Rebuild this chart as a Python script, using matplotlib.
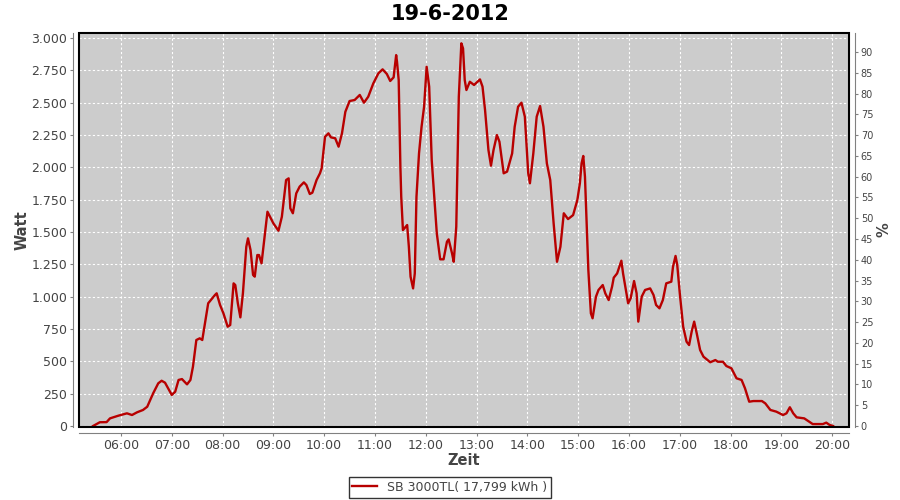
import matplotlib
matplotlib.use("Agg")
import matplotlib.pyplot as plt
import matplotlib.dates as mdates
import matplotlib.ticker as mticker
from matplotlib.patches import Rectangle
import pandas as pd

zeiten = ["05:27", "05:35", "05:43", "05:47", "05:57", "06:07", "06:13", "06:19", "06:26", "06:31",
          "06:38", "06:44", "06:48", "06:52", "07:00", "07:04", "07:08", "07:12", "07:18", "07:22",
          "07:25", "07:29", "07:33", "07:36", "07:43", "07:51", "07:53", "07:57", "08:01", "08:06",
          "08:09", "08:13", "08:15", "08:18", "08:21", "08:24", "08:28", "08:30", "08:33", "08:36",
          "08:38", "08:41", "08:43", "08:46", "08:50", "08:53", "09:00", "09:06", "09:10", "09:15",
          "09:18", "09:20", "09:23", "09:27", "09:31", "09:36", "09:39", "09:43", "09:46", "09:51",
          "09:55", "09:57", "10:01", "10:05", "10:08", "10:13", "10:17", "10:21", "10:25", "10:30",
          "10:36", "10:42", "10:47", "10:52", "10:58", "11:04", "11:09", "11:14", "11:18", "11:22",
          "11:25", "11:26", "11:28", "11:30", "11:31", "11:33", "11:38", "11:40", "11:42", "11:45",
          "11:47", "11:49", "11:52", "11:55", "11:58", "12:01", "12:04", "12:07", "12:10", "12:13",
          "12:17", "12:21", "12:25", "12:27", "12:31", "12:33", "12:36", "12:39", "12:42", "12:44",
          "12:46", "12:48", "12:52", "12:57", "13:04", "13:07", "13:10", "13:14", "13:17", "13:20",
          "13:24", "13:27", "13:32", "13:36", "13:42", "13:45", "13:49", "13:53", "13:57", "14:01",
          "14:03", "14:07", "14:11", "14:15", "14:19", "14:23", "14:27", "14:31", "14:35", "14:39",
          "14:43", "14:48", "14:54", "14:59", "15:02", "15:04", "15:06", "15:08", "15:10", "15:12",
          "15:15", "15:17", "15:21", "15:24", "15:29", "15:32", "15:36", "15:40", "15:42", "15:46",
          "15:51", "15:53", "15:59", "16:02", "16:06", "16:09", "16:11", "16:15", "16:19", "16:25",
          "16:29", "16:32", "16:36", "16:40", "16:44", "16:50", "16:52", "16:55", "16:57", "17:00",
          "17:04", "17:08", "17:11", "17:14", "17:17", "17:20", "17:24", "17:28", "17:36", "17:42",
          "17:45", "17:51", "17:55", "18:01", "18:07", "18:13", "18:17", "18:22", "18:27", "18:37",
          "18:41", "18:47", "18:54", "19:02", "19:06", "19:10", "19:14", "19:18", "19:27", "19:31",
          "19:37", "19:49", "19:53", "19:57", "20:01"]
watt = [0, 29, 30, 59, 80, 98, 85, 106, 124, 149,
        253, 330, 350, 335, 240, 265, 356, 363, 322, 356,
        459, 665, 678, 665, 949, 1013, 1026, 936, 871, 768,
        781, 1103, 1090, 949, 840, 1026, 1386, 1451, 1361, 1168,
        1155, 1322, 1322, 1258, 1490, 1657, 1567, 1510, 1618, 1902,
        1915, 1683, 1645, 1799, 1851, 1884, 1863, 1794, 1804, 1902,
        1954, 1993, 2237, 2263, 2232, 2225, 2160, 2263, 2430, 2513,
        2521, 2560, 2500, 2546, 2649, 2727, 2758, 2722, 2668, 2696,
        2868, 2817, 2675, 2005, 1773, 1515, 1554, 1386, 1155, 1064,
        1180, 1773, 2108, 2314, 2469, 2778, 2624, 2057, 1773, 1490,
        1289, 1289, 1425, 1443, 1335, 1270, 1541, 2546, 2959, 2920,
        2675, 2598, 2662, 2637, 2680, 2624, 2443, 2134, 2013, 2134,
        2250, 2198, 1954, 1967, 2108, 2314, 2469, 2500, 2392, 1954,
        1877, 2108, 2392, 2474, 2314, 2031, 1902, 1567, 1270, 1386,
        1645, 1600, 1631, 1747, 1877, 2031, 2088, 1928, 1567, 1206,
        871, 833, 1000, 1052, 1090, 1026, 974, 1077, 1147, 1180,
        1278, 1180, 949, 988, 1121, 1026, 807, 1000, 1052, 1064,
        1013, 936, 910, 974, 1103, 1116, 1232, 1315, 1245, 1026,
        768, 652, 626, 729, 807, 717, 588, 536, 493, 510,
        497, 497, 464, 446, 369, 356, 292, 188, 193, 193,
        175, 124, 111, 85, 98, 145, 98, 67, 59, 41,
        15, 15, 26, 8, 0]

stunden = ["06:00", "07:00", "08:00", "09:00", "10:00", "11:00", "12:00", "13:00",
           "14:00", "15:00", "16:00", "17:00", "18:00", "19:00", "20:00"]

tag = "2012-06-19 "
t = pd.to_datetime([tag + z for z in zeiten])

grau = "#444444"
fig = plt.figure(figsize=(9, 5), dpi=100)
ax = fig.add_axes([79 / 900, 1 - 427 / 500, 770 / 900, 394 / 500])
ax.set_facecolor("#cccccc")

ax.plot(t, watt, color="#b80000", linewidth=1.7, label="SB 3000TL( 17,799 kWh )", zorder=3)

ax.set_xlim(pd.Timestamp(tag + "05:10:24"), pd.Timestamp(tag + "20:19:52"))
ax.set_ylim(-7.7, 3039)
ax.set_xticks(pd.to_datetime([tag + s for s in stunden]))
ax.xaxis.set_major_formatter(mdates.DateFormatter("%H:%M"))
ax.yaxis.set_major_locator(mticker.MultipleLocator(250))
ax.yaxis.set_major_formatter(mticker.FuncFormatter(lambda v, p: f"{int(round(v)):,}".replace(",", ".")))

ax.grid(True, color="white", linestyle=(0, (2, 2)), linewidth=0.8)
ax.set_axisbelow(True)

# schwarzer Rahmen um den Plotbereich
ax.add_patch(Rectangle((0, 0), 1, 1, transform=ax.transAxes, fill=False,
                       edgecolor="black", linewidth=1.5, zorder=5, clip_on=False))

for s in ["top", "right"]:
    ax.spines[s].set_visible(False)
for s in ["left", "bottom"]:
    ax.spines[s].set_position(("outward", 4))
    ax.spines[s].set_color("#808080")
ax.tick_params(colors="#808080", labelcolor=grau, labelsize=9, length=2.5, pad=2)

ax.set_xlabel("Zeit", fontsize=10.5, color=grau, fontweight="bold", labelpad=1)
ax.set_ylabel("Watt", fontsize=10.5, color=grau, fontweight="bold", labelpad=1)

ax2 = ax.twinx()
ax2.set_ylim(-0.24, 94.57)
ax2.yaxis.set_major_locator(mticker.MultipleLocator(5))
for s in ["top", "left", "bottom"]:
    ax2.spines[s].set_visible(False)
ax2.spines["right"].set_position(("outward", 4))
ax2.spines["right"].set_color("#808080")
ax2.tick_params(colors="#808080", labelcolor=grau, labelsize=7, length=2.5, pad=2)
ax2.set_ylabel("%", fontsize=10.5, color=grau, fontweight="bold", labelpad=2)

fig.suptitle("19-6-2012", fontsize=15, fontweight="bold", x=0.5, y=0.992)

leg = fig.legend(loc="lower center", bbox_to_anchor=(0.5, 0.005), fontsize=9,
                 frameon=True, fancybox=False, edgecolor="black", handlelength=2,
                 borderpad=0.3, borderaxespad=0, labelcolor=grau)
leg.get_frame().set_linewidth(1)

fig.savefig("out.png", dpi=100)
